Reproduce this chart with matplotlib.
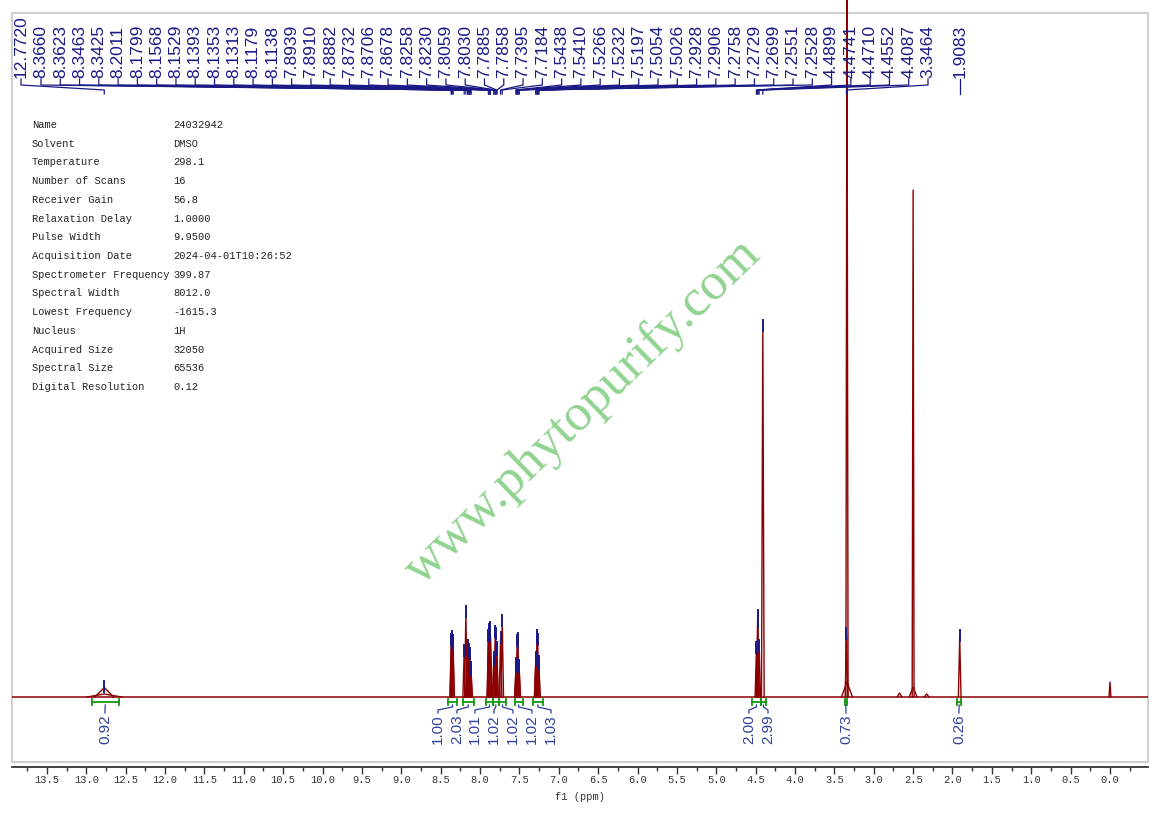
import numpy as np
import matplotlib
matplotlib.use('Agg')
import matplotlib.pyplot as plt
from matplotlib.patches import Rectangle
from matplotlib.ticker import MultipleLocator, FormatStrFormatter

W, H = 1160, 815

# picked peaks (ppm, height above baseline, half width at base)
pick_ppm = [12.7720, 8.3660, 8.3623, 8.3463, 8.3425, 8.2011, 8.1799, 8.1568, 8.1529,
            8.1393, 8.1353, 8.1313, 8.1179, 8.1138, 7.8939, 7.8910, 7.8882, 7.8732,
            7.8706, 7.8678, 7.8258, 7.8230, 7.8059, 7.8030, 7.7885, 7.7858, 7.7395,
            7.7184, 7.5438, 7.5410, 7.5266, 7.5232, 7.5197, 7.5054, 7.5026, 7.2928,
            7.2906, 7.2758, 7.2729, 7.2699, 7.2551, 7.2528, 4.4899, 4.4741, 4.4710,
            4.4552, 4.4087, 3.3464, 1.9083]
pick_h = [9.5, 56, 59, 55, 52, 45, 84, 50, 48,
          44, 46, 42, 28, 26, 60, 66, 62, 64,
          68, 60, 38, 36, 64, 62, 48, 46, 58,
          75, 30, 32, 55, 57, 53, 30, 28, 36,
          38, 58, 60, 56, 34, 32, 48, 80, 74,
          50, 370, 62, 60]
pick_w = [0.12] + [0.017] * 48

# unpicked signals: water, DMSO, satellites, TMS, broad feet
other_ppm = [3.340, 3.340, 2.500, 2.500, 2.672, 2.328, 0.000, 12.772]
other_h = [720, 15, 507, 10, 4, 3, 15, 3]
other_w = [0.014, 0.07, 0.012, 0.05, 0.03, 0.03, 0.012, 0.22]

# integrals
int_start = [12.93, 8.41, 8.22, 7.92, 7.84, 7.76, 7.56, 7.33, 4.55, 4.43, 3.37, 1.94]
int_end = [12.59, 8.29, 8.08, 7.84, 7.76, 7.67, 7.46, 7.20, 4.43, 4.37, 3.34, 1.89]
int_val = ['0.92', '1.00', '2.03', '1.01', '1.02', '1.02', '1.02', '1.03',
           '2.00', '2.99', '0.73', '0.26']
int_label_pos = [12.763, 8.534, 8.293, 8.065, 7.823, 7.582, 7.341, 7.099,
                 4.585, 4.343, 3.353, 1.918]

info_keys = ['Name', 'Solvent', 'Temperature', 'Number of Scans', 'Receiver Gain',
             'Relaxation Delay', 'Pulse Width', 'Acquisition Date',
             'Spectrometer Frequency', 'Spectral Width', 'Lowest Frequency',
             'Nucleus', 'Acquired Size', 'Spectral Size', 'Digital Resolution']
info_vals = ['24032942', 'DMSO', '298.1', '16', '56.8', '1.0000', '9.9500',
             '2024-04-01T10:26:52', '399.87', '8012.0', '-1615.3', '1H',
             '32050', '65536', '0.12']

red = '#8b0000'
navy = '#1a1a85'
iblue = '#2f3f9f'
green = '#109a10'

fig = plt.figure(figsize=(W / 100, H / 100), dpi=100)
ax = fig.add_axes([12 / W, 1 - 762 / H, 1136 / W, 749 / H])
ax.set_xlim(13.944, -0.483)
ax.set_ylim(-65, 684)

# frame and axis
for s in ['top', 'left', 'right']:
    ax.spines[s].set_visible(False)
ax.spines['bottom'].set_position(('outward', 3.6))
ax.spines['bottom'].set_color('#333333')
ax.spines['bottom'].set_linewidth(1.3)
ax.add_patch(Rectangle((0, 0), 1, 1, transform=ax.transAxes, fill=False,
                       ec='#cfcfcf', lw=1.5, clip_on=False))
ax.set_yticks([])
ax.xaxis.set_major_locator(MultipleLocator(0.5))
ax.xaxis.set_minor_locator(MultipleLocator(0.25))
ax.xaxis.set_major_formatter(FormatStrFormatter('%.1f'))
ax.tick_params(axis='x', which='major', length=5, width=1, pad=0.5,
               labelsize=7.5, colors='#333333')
ax.tick_params(axis='x', which='minor', length=2.8, width=1, colors='#333333')
for lab in ax.get_xticklabels():
    lab.set_family('Liberation Mono')
fig.text(580 / W, 1 - 797 / H, 'f1 (ppm)', ha='center', va='center',
         fontsize=7.5, family='Liberation Mono', color='#333333')

# spectrum
ax.plot([13.944, -0.483], [0, 0], color=red, lw=1.1)
for p, h, w in zip(other_ppm + pick_ppm, other_h + pick_h, other_w + pick_w):
    ax.plot([p + w, p, p - w], [0, h, 0], color=red, lw=1.0, clip_on=False)

# peak markers and labels
label_slots = np.r_[13.83, np.linspace(13.576, 2.311, 47), 1.9083]
for p, h, slot in zip(pick_ppm, pick_h, label_slots):
    ax.plot([p, p], [h - 4, h + 7], color=navy, lw=1.4)
    ax.text(slot, 619, f'{p:.4f}', rotation=90, ha='center', va='bottom',
            fontsize=12.5, color=navy, family='Liberation Sans')
    ax.plot([slot, slot, p, p], [618, 612, 607, 603], color=navy, lw=0.9,
            clip_on=False)

# integrals
for a, b, v, lp in zip(int_start, int_end, int_val, int_label_pos):
    ax.plot([a, b], [-5, -5], color=green, lw=1.3)
    ax.plot([a, a], [-2, -8], color=green, lw=1.3)
    ax.plot([b, b], [-2, -8], color=green, lw=1.3)
    c = (a + b) / 2
    ax.plot([c, c, lp, lp], [-8, -10, -13, -16], color=iblue, lw=0.9)
    ax.text(lp, -17, v, rotation=90, ha='center', va='top', fontsize=11,
            color=iblue, family='Liberation Sans')

# parameter table
for i, (k, v) in enumerate(zip(info_keys, info_vals)):
    yy = 1 - (125 + i * 18.71) / H
    fig.text(32 / W, yy, k, ha='left', va='center', fontsize=7.5,
             family='Liberation Mono', color='#222222')
    fig.text(173 / W, yy, v, ha='left', va='center', fontsize=7.5,
             family='Liberation Mono', color='#222222')

# watermark
fig.text(583 / W, 1 - 412 / H, 'www.phytopurify.com', rotation=44,
         ha='center', va='center', rotation_mode='anchor', fontsize=38,
         family='Liberation Serif', color='#66c266', alpha=0.72)

fig.savefig('out.png', dpi=100)
